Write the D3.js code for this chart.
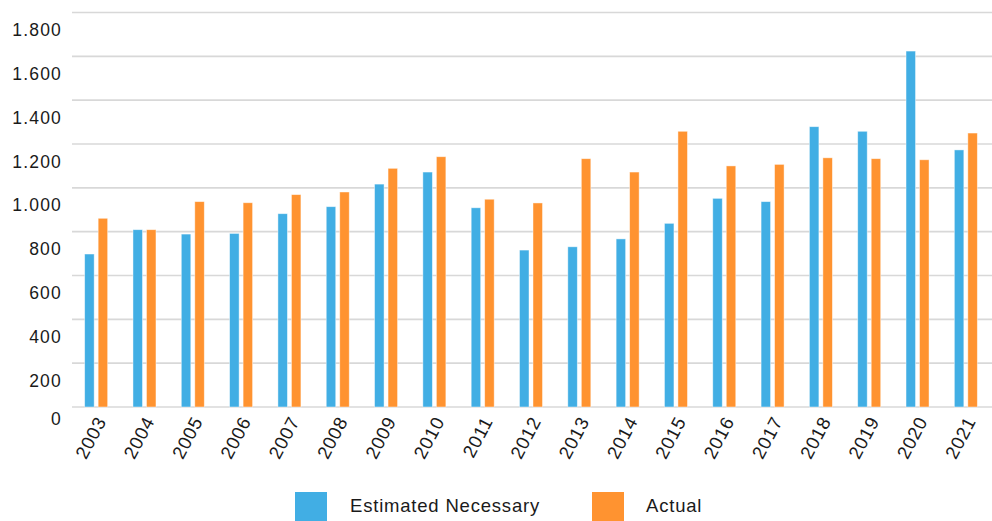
<!DOCTYPE html>
<html>
<head>
<meta charset="utf-8">
<script src="https://cdn.jsdelivr.net/npm/d3@7/dist/d3.min.js"></script>
<style>
  html, body { margin: 0; padding: 0; background: #fff; }
  svg { display: block; font-family: "Liberation Sans", Arial, Helvetica, sans-serif; }
</style>
</head>
<body>
<svg id="chart" width="992" height="521"></svg>
<script>
// Yearly figures: estimated necessary vs. actual
const years = ["2003","2004","2005","2006","2007","2008","2009","2010","2011","2012",
               "2013","2014","2015","2016","2017","2018","2019","2020","2021"];
const estimatedNecessary = [698, 809, 789, 792, 882, 914, 1017, 1072, 909, 716,
                            731, 767, 838, 952, 937, 1279, 1258, 1624, 1173];
const actual = [861, 809, 937, 932, 969, 981, 1089, 1142, 948, 931,
                1133, 1072, 1258, 1100, 1107, 1137, 1133, 1128, 1250];
const yTicks = [0, 200, 400, 600, 800, 1000, 1200, 1400, 1600, 1800];
const seriesNames = ["Estimated Necessary", "Actual"];
const seriesColors = ["#41aee4", "#ff9330"];

const svg = d3.select("#chart");
const plotLeft = 72, plotRight = 990, plotTop = 12.5, plotBottom = 407;

const y = d3.scaleLinear().domain([0, 1800]).range([plotBottom, plotTop]);
const x0 = d3.scaleBand().domain(years).range([plotLeft, plotRight]).padding(0);
const pairWidth = 23;
const x1 = d3.scaleBand().domain(seriesNames)
  .range([(x0.bandwidth() - pairWidth) / 2, (x0.bandwidth() + pairWidth) / 2])
  .paddingInner(0.296);
const color = d3.scaleOrdinal().domain(seriesNames).range(seriesColors);

// thousands separator is a period
const fmt = d3.formatLocale({ decimal: ",", thousands: ".", grouping: [3], currency: ["", ""] }).format(",.0f");

// horizontal grid lines
svg.append("g")
  .selectAll("line")
  .data(yTicks)
  .join("line")
  .attr("x1", plotLeft).attr("x2", 992)
  .attr("y1", d => y(d)).attr("y2", d => y(d))
  .attr("stroke", "#d8d8d8")
  .attr("stroke-width", 1.6);

// y tick labels sit just below their grid line
svg.append("g")
  .selectAll("text")
  .data(yTicks)
  .join("text")
  .attr("x", 62)
  .attr("y", d => y(d) + (d === 0 ? 12 : 17.5))
  .attr("dy", "0.35em")
  .attr("text-anchor", "end")
  .attr("font-size", 17.5)
  .attr("letter-spacing", 1.2)
  .attr("fill", "#1a1a1a")
  .text(d => fmt(d));

// bars
const rows = years.map((yr, i) => ({ year: yr, values: [
  { key: seriesNames[0], value: estimatedNecessary[i] },
  { key: seriesNames[1], value: actual[i] }
]}));

const groups = svg.append("g")
  .selectAll("g")
  .data(rows)
  .join("g")
  .attr("transform", d => `translate(${x0(d.year)},0)`);

groups.selectAll("rect")
  .data(d => d.values)
  .join("rect")
  .attr("x", d => x1(d.key))
  .attr("width", x1.bandwidth())
  .attr("y", d => y(d.value))
  .attr("height", d => y(0) - y(d.value))
  .attr("fill", d => color(d.key))
  .attr("stroke", "rgba(255,255,255,0.55)")
  .attr("stroke-width", 0.8);

// x axis labels, rotated
svg.append("g")
  .selectAll("text")
  .data(years)
  .join("text")
  .attr("transform", d => `translate(${x0(d) + x0.bandwidth() / 2 + 5},${418}) rotate(-62)`)
  .attr("text-anchor", "end")
  .attr("dy", "0.35em")
  .attr("font-size", 18.5)
  .attr("letter-spacing", 0.8)
  .attr("fill", "#1a1a1a")
  .text(d => d);

// legend
const legend = svg.append("g");
const legendItems = [
  { name: seriesNames[0], sx: 295, tx: 350 },
  { name: seriesNames[1], sx: 592, tx: 646 }
];
legend.selectAll("rect")
  .data(legendItems)
  .join("rect")
  .attr("x", d => d.sx).attr("y", 492)
  .attr("width", 32).attr("height", 29)
  .attr("fill", d => color(d.name));
legend.selectAll("text")
  .data(legendItems)
  .join("text")
  .attr("x", d => d.tx).attr("y", 512)
  .attr("font-size", 18.5)
  .attr("letter-spacing", 0.8)
  .attr("fill", "#1a1a1a")
  .text(d => d.name);
</script>
</body>
</html>
